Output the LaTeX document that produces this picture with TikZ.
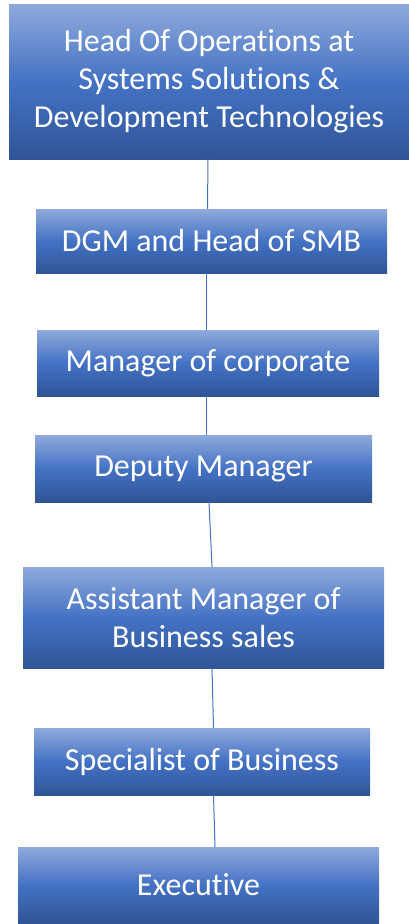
\documentclass[tikz,border=0pt]{standalone}
\usepackage{fontspec}
\setmainfont[Ligatures=NoCommon]{Carlito}
\usepackage{xcolor}
\usetikzlibrary{positioning, calc}
\definecolor{rankTop}{HTML}{8FAADC}
\definecolor{rankMid}{HTML}{4472C4}
\definecolor{rankBot}{HTML}{2F5597}
\definecolor{rankLine}{HTML}{4472C4}

\begin{document}
\begin{tikzpicture}[
    x=1pt, y=-1pt,
    rank/.style={rectangle, inner sep=0pt, align=center, text=white,
                 top color=rankTop, bottom color=rankBot, middle color=rankMid,
                 font=\fontsize{32}{38}\selectfont},
    link/.style={draw=rankLine, line width=1pt}
]
\useasboundingbox (0,0) rectangle (409,924);

\node[rank, minimum width=400pt, minimum height=155pt] (head)   at (209,81.5)
    {Head Of Operations at\\Systems Solutions \&\\Development Technologies};
\node[rank, minimum width=351pt, minimum height=64pt]  (dgm)    at (211.5,241)  {DGM and Head of SMB};
\node[rank, minimum width=342pt, minimum height=66pt]  (mgr)    at (208,363)    {Manager of corporate};
\node[rank, minimum width=337pt, minimum height=67pt]  (deputy) at (203.5,468.5){Deputy Manager};
\node[rank, minimum width=361pt, minimum height=101pt] (asst)   at (203.5,617.5){Assistant Manager of\\Business sales};
\node[rank, minimum width=336pt, minimum height=67pt]  (spec)   at (202,761.5)  {Specialist of Business};
\node[rank, minimum width=361pt, minimum height=76pt]  (exec)   at (198.5,885)  {Executive};

% Connectors
\draw[link] ([xshift=-1pt]head.south)    -- ([xshift=-4pt]dgm.north);
\draw[link] ([xshift=-5.5pt]dgm.south)   -- ([xshift=-2pt]mgr.north);
\draw[link] ([xshift=-2pt]mgr.south)     -- ([xshift=2.5pt]deputy.north);
\draw[link] ([xshift=5.5pt]deputy.south) -- ([xshift=8.5pt]asst.north);
\draw[link] ([xshift=8.5pt]asst.south)   -- ([xshift=11.5pt]spec.north);
\draw[link] ([xshift=11.5pt]spec.south)  -- ([xshift=16.5pt]exec.north);

\end{tikzpicture}
\end{document}
